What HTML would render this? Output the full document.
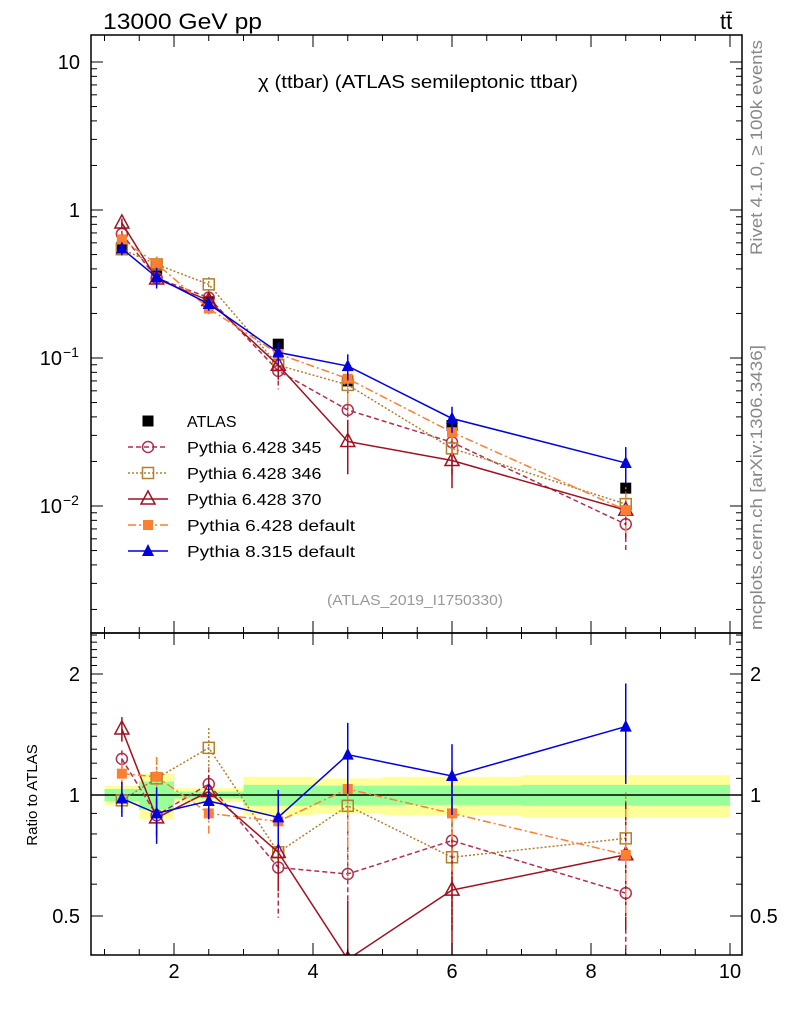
<!DOCTYPE html>
<html><head><meta charset="utf-8"><style>
html,body{margin:0;padding:0;background:#fff;}
svg{display:block;font-family:"Liberation Sans",sans-serif;}
</style></head><body>
<svg id="c" width="786" height="1024" viewBox="0 0 786 1024" xmlns="http://www.w3.org/2000/svg">
<text x="103" y="29" font-size="22" textLength="159" lengthAdjust="spacingAndGlyphs">13000 GeV pp</text>
<text x="720" y="29" font-size="22">tt̄</text>
<text x="258" y="88" font-size="18" textLength="320" lengthAdjust="spacingAndGlyphs">χ (ttbar) (ATLAS semileptonic ttbar)</text>
<text x="327" y="605" font-size="15" fill="#999" textLength="176" lengthAdjust="spacingAndGlyphs">(ATLAS_2019_I1750330)</text>
<text transform="translate(762,255) rotate(-90)" font-size="17" fill="#888" textLength="215" lengthAdjust="spacingAndGlyphs">Rivet 4.1.0, ≥ 100k events</text>
<text transform="translate(762,630) rotate(-90)" font-size="17" fill="#888" textLength="285" lengthAdjust="spacingAndGlyphs">mcplots.cern.ch [arXiv:1306.3436]</text>
<text transform="translate(37,795) rotate(-90)" font-size="15" text-anchor="middle">Ratio to ATLAS</text>
<g id="bands"></g><g id="marks"></g><g id="axes"></g><g id="legend"></g>
</svg>
<script>
const xs = [1.25, 1.75, 2.5, 3.5, 4.5, 6, 8.5];
const binEdges = [1, 1.5, 2, 3, 4, 5, 7, 10];
const atlas = [0.56, 0.39, 0.24, 0.124, 0.07, 0.035, 0.0132];
const atlasErr = [0.03, 0.05, 0.02, 0.04, 0.04, 0.04, 0.05];
const bandYellow = [0.055, 0.13, 0.04, 0.11, 0.10, 0.11, 0.12];
const bandGreen = [0.035, 0.08, 0.02, 0.06, 0.055, 0.055, 0.06];
const r345 = [1.23, 0.89, 1.065, 0.66, 0.636, 0.77, 0.57];
const r346 = [0.97, 1.10, 1.31, 0.72, 0.94, 0.70, 0.78];
const r370 = [1.46, 0.877, 1.02, 0.72, 0.39, 0.58, 0.71];
const r6def = [1.13, 1.11, 0.9, 0.86, 1.035, 0.9, 0.71];
const r8 = [0.98, 0.90, 0.966, 0.88, 1.26, 1.115, 1.48];
const e345 = [0.05, 0.1, 0.1, 0.25, 0.4, 0.4, 0.35];
const e346 = [0.08, 0.12, 0.12, 0.2, 0.35, 0.35, 0.3];
const e370 = [0.07, 0.1, 0.1, 0.2, 0.4, 0.35, 0.35];
const e6def = [0.06, 0.12, 0.12, 0.15, 0.3, 0.3, 0.3];
const e8 = [0.1, 0.16, 0.1, 0.17, 0.2, 0.2, 0.28];
const mainTickLabels = ["10^-2","10^-1","1","10"];

const NS="http://www.w3.org/2000/svg";
const L=91,R=742,T=35,MB=633,RB=955;
const X=v=>174+(v-2)*69.5;
const Y=v=>210-Math.log10(v)*148;
const YR=v=>795-Math.log2(v)*121;
function mk(tag,at,parent){const e=document.createElementNS(NS,tag);for(const k in at)e.setAttribute(k,at[k]);parent.appendChild(e);return e;}
const bands=document.getElementById('bands'),marks=document.getElementById('marks'),axes=document.getElementById('axes'),legend=document.getElementById('legend');

for(let i=0;i<bandYellow.length;i++){
  const x0=X(binEdges[i]),x1=X(binEdges[i+1]);
  let r=mk('rect',{x:x0,y:YR(1+bandYellow[i]),width:x1-x0,height:YR(1-bandYellow[i])-YR(1+bandYellow[i]),fill:'#ffff99'},bands);
  
  
  r=mk('rect',{x:x0,y:YR(1+bandGreen[i]),width:x1-x0,height:YR(1-bandGreen[i])-YR(1+bandGreen[i]),fill:'#99ff99'},bands);
  
  
}
let ln=mk('line',{x1:L,x2:R,y1:YR(1),y2:YR(1),stroke:'#000','stroke-width':1.5},bands);



const series=[
 {name:'pythia-6428-345',label:'Pythia 6.428 345',r:r345,e:e345,col:'#b03050',dash:'5,3',m:'circle'},
 {name:'pythia-6428-346',label:'Pythia 6.428 346',r:r346,e:e346,col:'#b08030',dash:'2,2',m:'osquare'},
 {name:'pythia-6428-370',label:'Pythia 6.428 370',r:r370,e:e370,col:'#a01020',dash:'',m:'otri'},
 {name:'pythia-6428-default',label:'Pythia 6.428 default',r:r6def,e:e6def,col:'#ff7f30',dash:'8,3,2,3',m:'fsquare'},
 {name:'pythia-8315-default',label:'Pythia 8.315 default',r:r8,e:e8,col:'#0000e0',dash:'',m:'ftri'}
];
function marker(type,x,y,col,parent,nm){
  let e;
  if(type==='circle')e=mk('circle',{cx:x,cy:y,r:5.5,fill:'none',stroke:col,'stroke-width':1.5},parent);
  else if(type==='osquare')e=mk('rect',{x:x-5.5,y:y-5.5,width:11,height:11,fill:'none',stroke:col,'stroke-width':1.5},parent);
  else if(type==='fsquare')e=mk('rect',{x:x-5,y:y-5,width:10,height:10,fill:col},parent);
  else if(type==='bsquare')e=mk('rect',{x:x-5.5,y:y-5.5,width:11,height:11,fill:col},parent);
  else if(type==='otri')e=mk('polygon',{points:`${x},${y-8} ${x-7},${y+5} ${x+7},${y+5}`,fill:'none',stroke:col,'stroke-width':1.5},parent);
  else e=mk('polygon',{points:`${x},${y-7} ${x-6},${y+5} ${x+6},${y+5}`,fill:col},parent);
  
  
}
function drawSeries(s){
  const gm=mk('g',{'clip-path':'url(#clipMain)'},marks), gr=mk('g',{'clip-path':'url(#clipRatio)'},marks);
  const vals=s.r.map((r,i)=>r*atlas[i]);
  const st={fill:'none',stroke:s.col,'stroke-width':1.5};
  if(s.dash)st['stroke-dasharray']=s.dash;
  let p=mk('polyline',Object.assign({points:xs.map((x,i)=>X(x)+','+Y(vals[i])).join(' ')},st),gm);
  
  
  p=mk('polyline',Object.assign({points:xs.map((x,i)=>X(x)+','+YR(s.r[i])).join(' ')},st),gr);
  
  
  xs.forEach((x,i)=>{
    const eb={stroke:s.col,'stroke-width':1.5};
    if(s.dash)eb['stroke-dasharray']=s.dash;
    let l=mk('line',Object.assign({x1:X(x),x2:X(x),y1:Y(vals[i]*(1+s.e[i])),y2:Y(vals[i]*Math.max(0.05,1-s.e[i]))},eb),gm);
    
    
    l=mk('line',Object.assign({x1:X(x),x2:X(x),y1:YR(s.r[i]*(1+s.e[i])),y2:YR(s.r[i]*Math.max(0.05,1-s.e[i]))},eb),gr);
    
    
    marker(s.m,X(x),Y(vals[i]),s.col,gm,s.name+'-point');
    marker(s.m,X(x),YR(s.r[i]),s.col,gr,s.name+'-ratio-point');
  });
}
const defs=mk('defs',{},document.getElementById('c'));
let cp=mk('clipPath',{id:'clipMain'},defs);mk('rect',{x:L,y:T,width:R-L,height:MB-T},cp);
cp=mk('clipPath',{id:'clipRatio'},defs);mk('rect',{x:L,y:MB,width:R-L,height:RB-MB},cp);
{
  const g=mk('g',{'clip-path':'url(#clipMain)'},marks);
  xs.forEach((x,i)=>{
    let l=mk('line',{x1:X(x),x2:X(x),y1:Y(atlas[i]*(1+atlasErr[i])),y2:Y(atlas[i]*(1-atlasErr[i])),stroke:'#000','stroke-width':1.5},g);
    
    
    marker('bsquare',X(x),Y(atlas[i]),'#000',g,'atlas-point');
  });
}
series.forEach(drawSeries);

[[T,MB],[MB,RB]].forEach(([a,b],k)=>{
  const f=mk('rect',{x:L,y:a,width:R-L,height:b-a,fill:'none',stroke:'#000','stroke-width':1.5},axes);
  
  
});
function tick(x1,y1,x2,y2){mk('line',{x1,y1,x2,y2,stroke:'#000','stroke-width':1},axes);}
function label(txt,x,y,anchor,nm,size){const t=mk('text',{x,y,'font-size':size||20,'text-anchor':anchor},axes);t.textContent=txt;return t;}
for(let d=-3;d<=1;d++){
  for(let m=1;m<10;m++){
    const v=m*Math.pow(10,d),y=Y(v);
    if(y<T||y>MB)continue;
    const len=m===1?12:6;
    tick(L,y,L+len,y);tick(R,y,R-len,y);
  }
}
mainTickLabels.forEach((s,i)=>{
  const d=i-2,y=Y(Math.pow(10,d))+7;
  if(d>=0){label(s,80,y,'end','main-y-tick-label');}
  else{
    label('10',62,y,'end','main-y-tick-label');
    const sp=mk('text',{x:63,y:y-8,'font-size':14,'text-anchor':'start'},axes);sp.textContent=String(d).replace('-','−');
    
    
  }
});
for(let v=1;v<=10.01;v+=0.5){
  const x=X(v);const major=Math.abs(v-Math.round(v/2)*2)<1e-6;
  const len=major?12:6;
  tick(x,MB,x,MB-len);tick(x,T,x,T+len);tick(x,RB,x,RB-len);tick(x,MB,x,MB+len);
  if(major)label(String(v),x,978,'middle','x-tick-label');
}
for(let v=0.4;v<=2.55;v+=0.1){
  const y=YR(v);if(y<MB||y>RB)continue;
  const major=[0.5,1,2].some(m=>Math.abs(m-v)<1e-6);
  const len=major?12:6;
  tick(L,y,L+len,y);tick(R,y,R-len,y);
}
[['2',2],['1',1],['0.5',0.5]].forEach(([s,v])=>{
  label(s,80,YR(v)+7,'end','ratio-y-tick-label');
  label(s,750,YR(v)+7,'start','ratio-y-tick-label-right');
});
const leg=[{label:'ATLAS',m:'bsquare',col:'#000',dash:null,name:'atlas'}].concat(series);
leg.forEach((s,i)=>{
  const y=421+i*26;
  const g=mk('g',{},legend);
  
  
  if(s.dash!==null){
    const a={x1:128,x2:168,y1:y,y2:y,stroke:s.col,'stroke-width':1.5};if(s.dash)a['stroke-dasharray']=s.dash;
    mk('line',a,g);
  }
  marker(s.m,148,y,s.col,g,'legend-marker');
  const t=mk('text',{x:187,y:y+6,'font-size':16},g);t.textContent=s.label;
  if(s.label.length>6){
    t.setAttribute('textLength',String(s.label.length*8.4));
    t.setAttribute('lengthAdjust','spacingAndGlyphs');
  }
  
  
});
</script>
</body></html>
